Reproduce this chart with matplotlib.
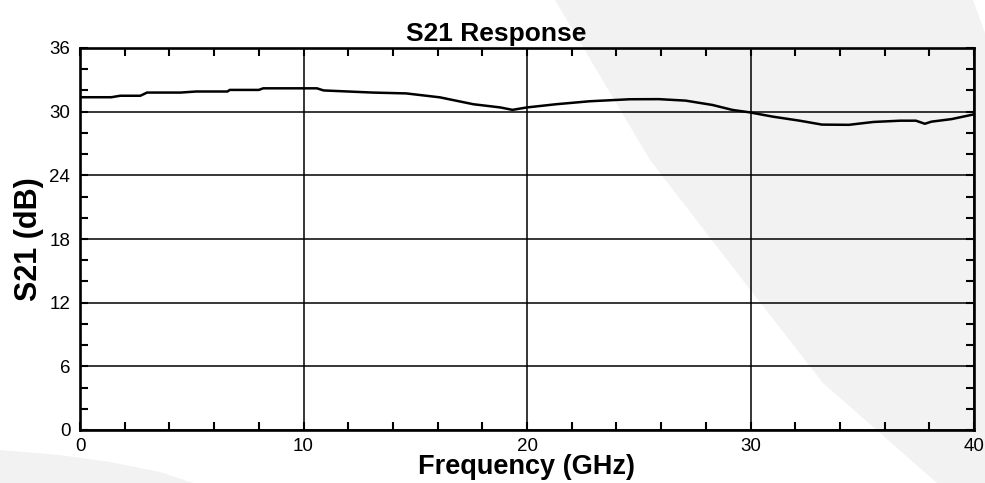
import numpy as np
import matplotlib.pyplot as plt
from matplotlib.patches import Polygon
from matplotlib.ticker import MultipleLocator

# S21 trace
freq_ghz = [0.0, 1.4, 1.8, 2.7, 3.0, 4.5, 5.2, 6.6, 6.7, 8.0, 8.2, 10.6,
            10.9, 12.0, 13.1, 14.6, 16.1, 17.6, 18.8, 19.35, 20.0, 21.3,
            22.8, 24.6, 25.9, 27.1, 28.3, 29.2, 29.95, 31.0, 32.2, 33.2,
            34.4, 35.5, 36.7, 37.4, 37.8, 38.1, 39.0, 40.0]
s21_db = [31.36, 31.36, 31.5, 31.5, 31.8, 31.8, 31.9, 31.9, 32.05, 32.05,
          32.2, 32.2, 32.0, 31.9, 31.8, 31.72, 31.35, 30.7, 30.4, 30.17,
          30.4, 30.7, 30.98, 31.17, 31.18, 31.04, 30.63, 30.16, 29.94,
          29.53, 29.15, 28.78, 28.76, 29.03, 29.15, 29.15, 28.86, 29.06,
          29.3, 29.75]

xticks = [0, 10, 20, 30, 40]
yticks = [0, 6, 12, 18, 24, 30, 36]

plt.rcParams['font.family'] = ['Liberation Sans', 'DejaVu Sans']

fig = plt.figure(figsize=(9.85, 4.83), dpi=100)
W, H = 985, 483

def px(points):
    return [(x / W, 1 - y / H) for x, y in points]

# light grey background shapes
shade = '#f2f2f2'
fig.patches.append(Polygon(px([(555, 0), (650, 160), (745, 283), (823, 383),
                               (937, 483), (985, 483), (985, 33), (973, 0)]),
                           closed=True, transform=fig.transFigure,
                           facecolor=shade, edgecolor='none', zorder=-5))
fig.patches.append(Polygon(px([(0, 450), (60, 455), (110, 462), (160, 472),
                               (193, 483), (0, 483)]),
                           closed=True, transform=fig.transFigure,
                           facecolor=shade, edgecolor='none', zorder=-5))

ax = fig.add_axes([80 / W, 1 - 430 / H, 894 / W, 382 / H])
ax.set_facecolor('none')

ax.plot(freq_ghz, s21_db, color='black', linewidth=1.8, zorder=3)

ax.set_xlim(0, 40)
ax.set_ylim(0, 36)
ax.set_xticks(xticks)
ax.set_yticks(yticks)
ax.xaxis.set_minor_locator(MultipleLocator(2))
ax.yaxis.set_minor_locator(MultipleLocator(2))
ax.tick_params(which='both', direction='in', top=True, right=True,
               length=6, width=1.5, color='black')
ax.tick_params(axis='both', labelsize=13.5)
ax.tick_params(axis='x', pad=6)
ax.tick_params(axis='y', pad=7)

ax.grid(True, which='major', color='black', linewidth=1.1)
for s in ax.spines.values():
    s.set_linewidth(1.9)

ax.set_title('S21 Response', fontsize=19, fontweight='bold', x=0.465, pad=5)
ax.set_xlabel('Frequency (GHz)', fontsize=19.5, fontweight='bold', labelpad=-1)
ax.set_ylabel('S21 (dB)', fontsize=22, fontweight='bold', labelpad=4)

fig.savefig('out.png', dpi=100)
